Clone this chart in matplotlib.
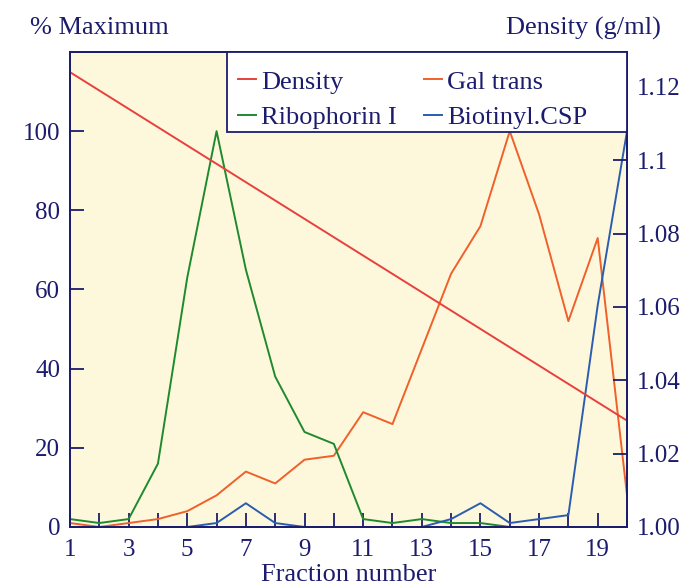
import numpy as np
import matplotlib
matplotlib.use("Agg")
import matplotlib.pyplot as plt
from matplotlib.patches import Rectangle

fractions = list(range(1, 21))
density = [1.124, 1.119, 1.114, 1.109, 1.104, 1.099, 1.094, 1.089, 1.084, 1.079,
           1.074, 1.069, 1.064, 1.059, 1.054, 1.049, 1.044, 1.039, 1.034, 1.029]
gal_trans = [1, 0, 1, 2, 4, 8, 14, 11, 17, 18, 29, 26, 45, 64, 76, 100, 79, 52, 73, 8]
ribophorin = [2, 1, 2, 16, 63, 100, 65, 38, 24, 21, 2, 1, 2, 1, 1, 0, 0, 0, 0, 0]
biotinyl = [0, 0, 0, 0, 0, 1, 6, 1, 0, 0, 0, 0, 0, 2, 6, 1, 2, 3, 56, 100]

navy = "#1c1c6e"
bg = "#fdf8dc"
c_density = "#e8403c"
c_gal = "#f0602a"
c_ribo = "#1e8a2e"
c_bio = "#2a5db0"

plt.rcParams['font.family'] = ['Liberation Serif', 'DejaVu Serif']
fs_tick = 18
fs = 19

fig = plt.figure(figsize=(6.84, 5.86), dpi=100)
ax = fig.add_axes([0.1023, 0.1007, 0.8144, 0.8106])
ax.set_facecolor(bg)
ax2 = ax.twinx()

l_gal, = ax.plot(fractions, gal_trans, color=c_gal, lw=1.4, label="Gal trans")
l_ribo, = ax.plot(fractions, ribophorin, color=c_ribo, lw=1.4, label="Ribophorin I")
l_bio, = ax.plot(fractions, biotinyl, color=c_bio, lw=1.4, label="Biotinyl.CSP", clip_on=False)
l_den, = ax2.plot(fractions, density, color=c_density, lw=1.4, label="Density")

ax.set_xlim(1, 20)
ax.set_ylim(0, 120)
ax2.set_ylim(1.0, 1.1295)

ax.set_xticks(fractions)
ax.set_xticklabels([str(f) if f % 2 == 1 else "" for f in fractions])
ax.set_yticks([0, 20, 40, 60, 80, 100])
ax2.set_yticks([1.00, 1.02, 1.04, 1.06, 1.08, 1.10, 1.12])
ax2.set_yticklabels(["1.00", "1.02", "1.04", "1.06", "1.08", "1.1", "1.12"])

for a in (ax, ax2):
    a.tick_params(direction="in", length=10, width=1.3, colors=navy, labelsize=fs_tick, pad=7)
    for s in a.spines.values():
        s.set_color(navy)
        s.set_linewidth(1.3)
ax.tick_params(axis="x", pad=9)

ax.set_xlabel("Fraction number", fontsize=fs, color=navy, labelpad=2)
fig.text(0.044, 0.952, "% Maximum", fontsize=fs, color=navy, ha="left", va="center")
fig.text(0.966, 0.952, "Density (g/ml)", fontsize=fs, color=navy, ha="right", va="center")

# white legend box, from the top of the axes down to ~y=132 px
box = Rectangle((0.282, 0.8316), 0.718, 0.1684, transform=ax2.transAxes,
                facecolor="white", edgecolor=navy, lw=1.3, zorder=5, clip_on=False)
ax2.add_patch(box)

leg = ax2.legend([l_den, l_ribo, l_gal, l_bio],
                 ["Density", "Ribophorin I", "Gal trans", "Biotinyl.CSP"],
                 ncol=2, loc="upper left", bbox_to_anchor=(0.282, 0.984),
                 borderaxespad=0, fontsize=fs, frameon=False,
                 handlelength=0.7, handletextpad=0.2, columnspacing=1.0,
                 labelspacing=0.45, borderpad=0.4)
leg.set_zorder(6)
for t in leg.get_texts():
    t.set_color(navy)

fig.savefig("out.png", dpi=100, facecolor="white")
